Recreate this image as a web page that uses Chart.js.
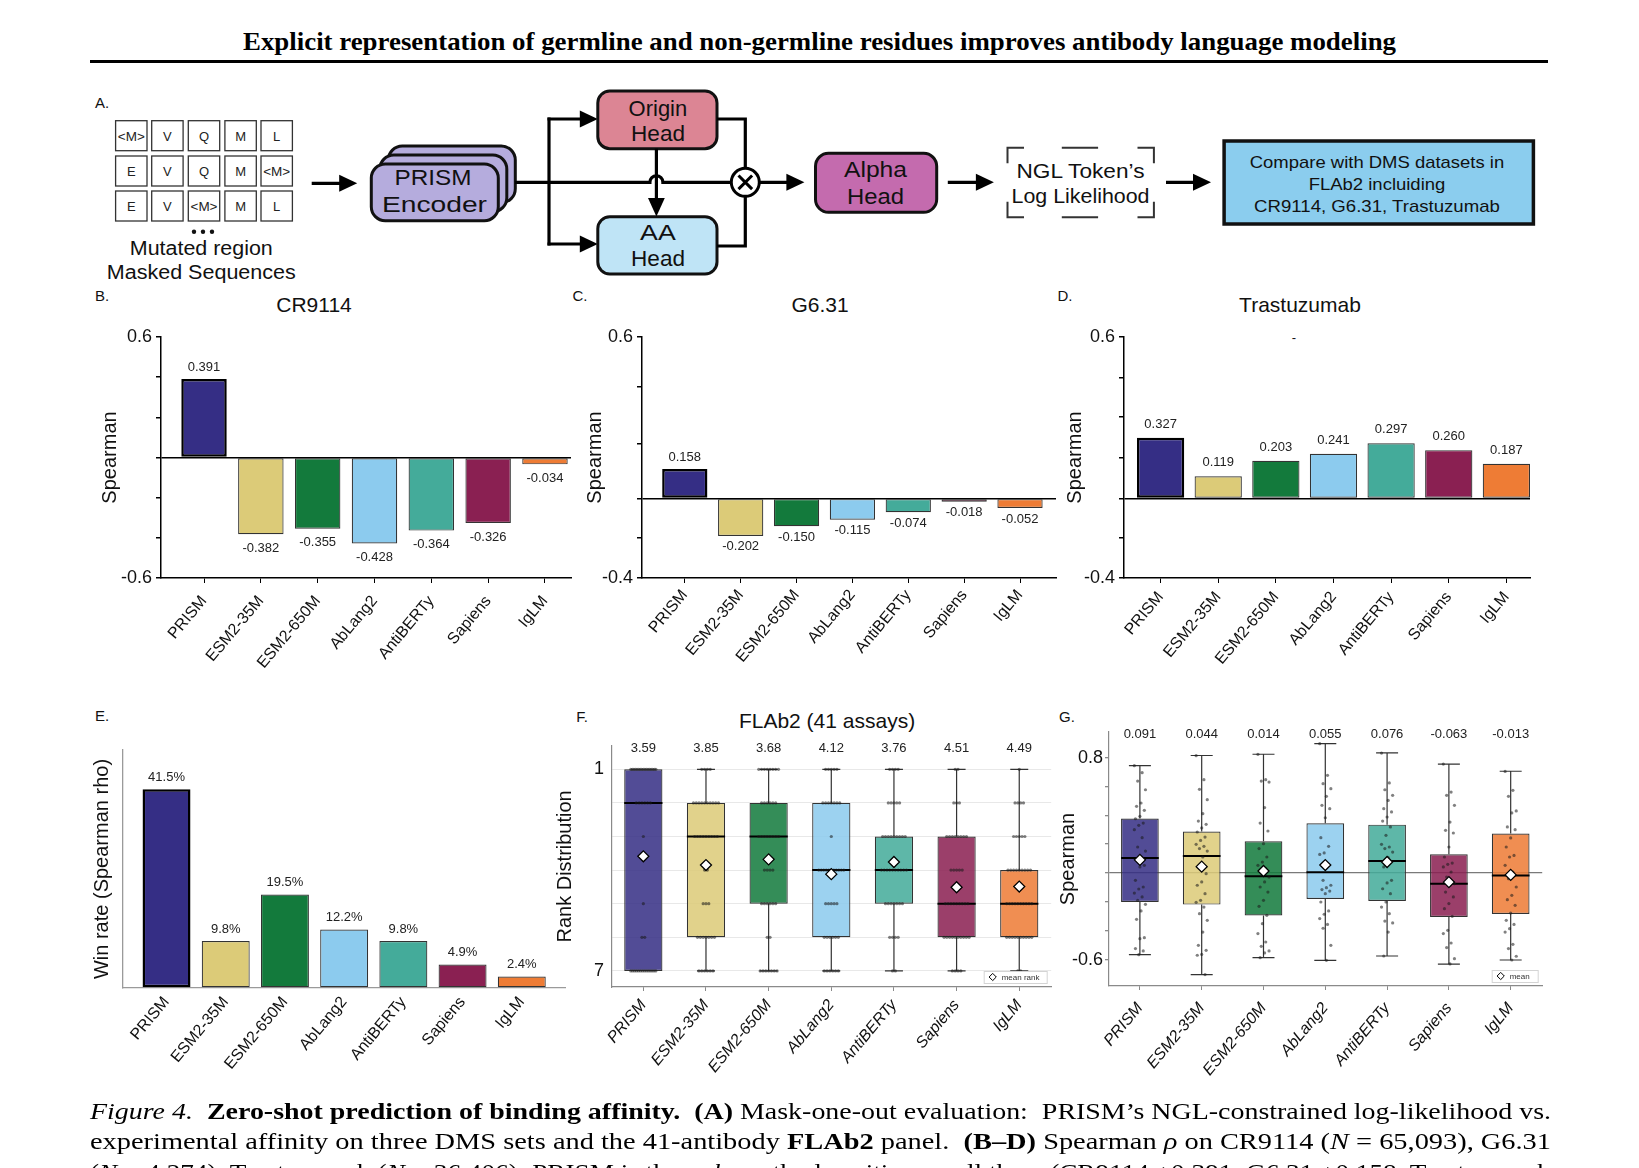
<!DOCTYPE html>
<html>
<head>
<meta charset="utf-8">
<title>Figure 4</title>
<script src="https://cdn.jsdelivr.net/npm/chart.js@4.4.1/dist/chart.umd.min.js"></script>
<style>
html,body{margin:0;padding:0;background:#fff;}
body{width:1639px;height:1168px;position:relative;overflow:hidden;font-family:"Liberation Sans",Arial,Helvetica,sans-serif;color:#111;}
canvas{position:absolute;display:block;}
.c{position:absolute;transform:translate(-50%,-50%);white-space:nowrap;line-height:1;}
.plab{font-size:15px;}
.ptitle{font-size:21px;}
.serifline{position:absolute;white-space:nowrap;font-family:"Liberation Serif","Times New Roman",serif;transform-origin:0 0;line-height:30px;color:#000;}
#rule{position:absolute;left:90px;top:60px;width:1458px;height:3px;background:#000;}
</style>
</head>
<body>
<div id="title" class="serifline" style="font-size:25px;font-weight:bold;top:27px;left:243px;">Explicit representation of germline and non-germline residues improves antibody language modeling</div>
<div id="rule"></div>
<div id="diagram"></div>

<div class="c plab" style="left:102px;top:102px">A.</div>
<div class="c plab" style="left:102px;top:295px">B.</div>
<div class="c plab" style="left:580px;top:295px">C.</div>
<div class="c plab" style="left:1065px;top:295px">D.</div>
<div class="c plab" style="left:102px;top:715px">E.</div>
<div class="c plab" style="left:582px;top:716px">F.</div>
<div class="c plab" style="left:1067px;top:716px">G.</div>

<div class="c ptitle" style="left:314px;top:304px">CR9114</div>
<div class="c ptitle" style="left:820px;top:304px">G6.31</div>
<div class="c ptitle" style="left:1300px;top:304px">Trastuzumab</div>
<div class="c" style="left:1294px;top:337px;font-size:13px">-</div>
<div class="c ptitle" style="left:827px;top:720px">FLAb2 (41 assays)</div>

<canvas id="cB"></canvas>
<canvas id="cC"></canvas>
<canvas id="cD"></canvas>
<canvas id="cE"></canvas>
<canvas id="cF"></canvas>
<canvas id="cG"></canvas>

<div class="serifline cap" style="font-size:24px;top:1096px;left:90px"><i>Figure 4.</i>&nbsp; <b>Zero-shot prediction of binding affinity.</b>&nbsp; <b>(A)</b> Mask-one-out evaluation:&nbsp; PRISM’s NGL-constrained log-likelihood vs.</div>
<div class="serifline cap" style="font-size:24px;top:1126px;left:90px">experimental affinity on three DMS sets and the 41-antibody <b>FLAb2</b> panel.&nbsp; <b>(B–D)</b> Spearman <i>ρ</i> on CR9114 (<i>N</i> = 65,093), G6.31</div>
<div class="serifline cap" style="font-size:24px;top:1157px;left:90px">(<i>N</i> = 4,274), Trastuzumab (<i>N</i> = 36,406); PRISM is the <i>only</i> method positive on all three (CR9114 +0.391, G6.31 +0.158, Trastuzumab</div>

<script>
// ---------------- data ----------------
const models = ['PRISM','ESM2-35M','ESM2-650M','AbLang2','AntiBERTy','Sapiens','IgLM'];

const cr9114Spearman = [0.391,-0.382,-0.355,-0.428,-0.364,-0.326,-0.034];
const g631Spearman = [0.158,-0.202,-0.150,-0.115,-0.074,-0.018,-0.052];
const trastuzumabSpearman = [0.327,0.119,0.203,0.241,0.297,0.260,0.187];
const winRatePct = [41.5,9.8,19.5,12.2,9.8,4.9,2.4];

// axis ticks as printed
const yTicksB = [-0.6,-0.4,-0.2,0,0.2,0.4,0.6];
const yTickLabelsB = ['-0.6','','','','','','0.6'];
const yTicksC = [-0.429,-0.213,0,0.297,0.603,0.870];
const yTickLabelsC = ['-0.4','','','','','0.6'];
const yTicksD = [-0.429,-0.213,0,0.219,0.438,0.649,0.870];
const yTickLabelsD = ['-0.4','','','','','','0.6'];
const yTicksF = [1,2,3,4,5,6,7];
const yTickLabelsF = ['1','','','','','','7'];
const yTicksG = [-0.6,-0.4,-0.2,0,0.2,0.4,0.6,0.8];
const yTickLabelsG = ['-0.6','','','','','','','0.8'];

// F: rank distribution over 41 assays
const rankMean = [3.59,3.85,3.68,4.12,3.76,4.51,4.49];
const rankQ1 = [1,2,2,2,3,3,4];
const rankMedian = [2,3,3,4,4,5,5];
const rankQ3 = [7,6,5,6,5,6,6];
const rankLow = [1,1,1,1,1,1,1];
const rankHigh = [7,7,7,7,7,7,7];
// number of assays at rank 1..7
const rankCountPRISM = [17,6,1,0,1,2,14];
const rankCountESM35 = [4,10,9,2,3,7,6];
const rankCountESM650 = [8,6,8,4,6,2,7];
const rankCountAbLang2 = [5,7,1,11,5,6,6];
const rankCountAntiBERTy = [4,5,9,10,7,4,2];
const rankCountSapiens = [2,3,8,5,9,10,4];
const rankCountIgLM = [1,4,5,9,10,10,2];

// G: per-assay Spearman
const spMean = [0.091,0.044,0.014,0.055,0.076,-0.063,-0.013];
const spQ1 = [-0.201,-0.219,-0.295,-0.180,-0.194,-0.305,-0.284];
const spMedian = [0.104,0.118,-0.023,0.005,0.083,-0.074,-0.018];
const spQ3 = [0.377,0.287,0.220,0.344,0.335,0.130,0.273];
const spLow = [-0.566,-0.704,-0.586,-0.605,-0.575,-0.631,-0.603];
const spHigh = [0.744,0.814,0.823,0.897,0.832,0.755,0.705];
const spDotsPRISM = [0.744,0.695,0.637,0.577,0.485,0.462,0.434,0.393,0.376,0.346,0.330,0.300,0.245,0.180,0.152,0.111,0.092,0.053,0.042,-0.051,-0.097,-0.111,-0.139,-0.166,-0.189,-0.217,-0.263,-0.321,-0.448,-0.455,-0.524,-0.540,-0.566];
const spDotsESM35 = [0.813,0.647,0.580,0.508,0.411,0.360,0.337,0.312,0.284,0.249,0.226,0.199,0.185,0.169,0.152,0.111,0.042,-0.005,-0.062,-0.085,-0.143,-0.189,-0.203,-0.236,-0.282,-0.328,-0.409,-0.501,-0.536,-0.564,-0.570,-0.704];
const spDotsESM650 = [0.822,0.647,0.637,0.630,0.453,0.346,0.291,0.203,0.169,0.111,0.076,0.053,0.030,0.014,-0.028,-0.062,-0.097,-0.132,-0.189,-0.231,-0.293,-0.351,-0.420,-0.478,-0.508,-0.540,-0.554,-0.587];
const spDotsAbLang2 = [0.896,0.677,0.619,0.584,0.531,0.469,0.446,0.383,0.245,0.185,0.139,0.129,0.053,-0.051,-0.085,-0.102,-0.115,-0.125,-0.143,-0.201,-0.263,-0.286,-0.316,-0.356,-0.383,-0.501,-0.605];
const spDotsAntiBERTy = [0.831,0.624,0.577,0.538,0.503,0.446,0.423,0.388,0.360,0.319,0.261,0.199,0.180,0.169,0.145,0.106,0.042,-0.051,-0.069,-0.109,-0.143,-0.201,-0.236,-0.282,-0.333,-0.346,-0.409,-0.575];
const spDotsSapiens = [0.755,0.561,0.538,0.469,0.353,0.296,0.277,0.180,0.111,0.069,0.060,0.042,0.007,-0.028,-0.074,-0.085,-0.132,-0.166,-0.212,-0.247,-0.300,-0.397,-0.420,-0.485,-0.517,-0.594,-0.630];
const spDotsIgLM = [0.704,0.573,0.531,0.430,0.416,0.319,0.300,0.243,0.180,0.122,0.111,0.053,0.007,-0.039,-0.097,-0.155,-0.185,-0.224,-0.277,-0.328,-0.356,-0.386,-0.409,-0.494,-0.524,-0.577,-0.603];

const maskedSeqs = [['<M>','V','Q','M','L'],['E','V','Q','M','<M>'],['E','V','<M>','M','L']];

// ---------------- styles ----------------
const barColors = ['#352e85','#dccb78','#137a3c','#8ccbee','#44ab9a','#8a2052','#ee7c35'];
const boxColors = ['rgba(53,46,133,0.86)','rgba(220,203,120,0.86)','rgba(19,122,60,0.86)','rgba(140,203,238,0.86)','rgba(68,171,154,0.86)','rgba(138,32,82,0.86)','rgba(238,124,53,0.86)'];
const FONT = '"Liberation Sans", Arial, Helvetica, sans-serif';

// ---------------- diagram (panel A) ----------------
(function buildDiagram(){
  const s = [];
  const colX = [115.6,151.7,188.3,224.9,261.0], rowY = [120.7,156.0,191.0];
  const esc = t => t.replace(/</g,'&lt;').replace(/>/g,'&gt;');
  maskedSeqs.forEach((row,r)=>row.forEach((t,c)=>{
    s.push(`<rect x="${colX[c]}" y="${rowY[r]}" width="31.4" height="30" fill="#fff" stroke="#333" stroke-width="1.3"/>`);
    s.push(`<text x="${colX[c]+15.7}" y="${rowY[r]+15.5}" font-size="13" text-anchor="middle" dominant-baseline="central" fill="#222"${t.length>1?' textLength="27" lengthAdjust="spacingAndGlyphs"':''}>${esc(t)}</text>`);
  }));
  const txt = (x,y,t,size,len) => `<text x="${x}" y="${y}" font-size="${size}" text-anchor="middle" dominant-baseline="central" fill="#111" textLength="${len}" lengthAdjust="spacingAndGlyphs">${t}</text>`;
  const harrow = (x1,x2,y) => `<line x1="${x1}" y1="${y}" x2="${x2-12}" y2="${y}" stroke="#000" stroke-width="3.2"/><polygon points="${x2-18},${y-8.5} ${x2},${y} ${x2-18},${y+8.5}" fill="#000"/>`;
  [194,203,212].forEach(x=>s.push(`<circle cx="${x}" cy="231.7" r="2.2" fill="#111"/>`));
  s.push(txt(201.3,248.3,'Mutated region',20,143));
  s.push(txt(201.3,272.3,'Masked Sequences',20,189));
  s.push(harrow(311.7,357.2,183.3));
  [[388.3,146],[379.8,155],[371.3,164]].forEach(([x,y])=>s.push(`<rect x="${x}" y="${y}" width="127" height="56.7" rx="14" fill="#b5acdd" stroke="#111" stroke-width="3"/>`));
  s.push(txt(433,177,'PRISM',22,77));
  s.push(txt(434.5,204,'Encoder',22,105));
  s.push(`<path d="M515,182.3 H649.9 A6.5,6.5 0 0 1 662.9,182.3 H731.3" fill="none" stroke="#000" stroke-width="3.2"/>`);
  s.push(`<line x1="549" y1="117.5" x2="549" y2="245.5" stroke="#000" stroke-width="3.2"/>`);
  s.push(harrow(547.5,597.8,119));
  s.push(harrow(547.5,597.8,244));
  s.push(`<rect x="597.8" y="91" width="119.2" height="57.7" rx="12" fill="#dc8594" stroke="#111" stroke-width="3"/>`);
  s.push(txt(657.9,108.3,'Origin',22,58.6));
  s.push(txt(658,133.3,'Head',22,54));
  s.push(`<rect x="597.8" y="216.7" width="119.2" height="57.3" rx="12" fill="#bfe4f6" stroke="#111" stroke-width="3"/>`);
  s.push(txt(657.9,232.3,'AA',22,35.6));
  s.push(txt(658,258.3,'Head',22,54));
  s.push(`<line x1="656.4" y1="148.7" x2="656.4" y2="203" stroke="#000" stroke-width="3.2"/><polygon points="648,198 656.4,216.5 664.8,198" fill="#000"/>`);
  s.push(`<path d="M717,119 H745.3 V168.3" fill="none" stroke="#000" stroke-width="3.2"/>`);
  s.push(`<path d="M717,246 H745.3 V196.3" fill="none" stroke="#000" stroke-width="3.2"/>`);
  s.push(`<circle cx="745.3" cy="182.3" r="14" fill="#fff" stroke="#000" stroke-width="3"/>`);
  s.push(`<path d="M738.5,175.5 L752.1,189.1 M752.1,175.5 L738.5,189.1" stroke="#000" stroke-width="3"/>`);
  s.push(harrow(759.3,804.4,182.3));
  s.push(`<rect x="815.5" y="153.3" width="121.2" height="59" rx="13" fill="#c46bae" stroke="#111" stroke-width="3"/>`);
  s.push(txt(875.5,169.5,'Alpha',22,63));
  s.push(txt(875.5,196.7,'Head',22,57));
  s.push(harrow(947.8,993.9,182.3));
  s.push(`<path d="M1007.5,163.3 V147.7 H1024 M1137.5,147.7 H1153.9 V163.3 M1007.5,201.7 V217.3 H1024 M1137.5,217.3 H1153.9 V201.7 M1061.8,147.7 H1098.1 M1061.8,217.3 H1098.1" fill="none" stroke="#333" stroke-width="2"/>`);
  s.push(txt(1080.5,170.7,'NGL Token’s',21,128));
  s.push(txt(1080.5,195,'Log Likelihood',21,138));
  s.push(harrow(1166,1211,182.3));
  s.push(`<rect x="1224.1" y="141" width="309.3" height="83" fill="#8bcdee" stroke="#111" stroke-width="3.5"/>`);
  s.push(txt(1377,162.7,'Compare with DMS datasets in',17,254.5));
  s.push(txt(1377,184,'FLAb2 incluiding',17,136.7));
  s.push(txt(1377,206,'CR9114, G6.31, Trastuzumab',17,245.8));
  document.getElementById('diagram').innerHTML =
    `<svg style="position:absolute;left:0;top:0" width="1639" height="300" viewBox="0 0 1639 300" font-family='"Liberation Sans", Arial, sans-serif'>${s.join('')}</svg>`;
})();

// ---------------- helpers ----------------
Chart.defaults.font.family = FONT;
Chart.defaults.color = '#111';

function setupCanvas(id, area, m) {
  const cv = document.getElementById(id);
  const w = area.r - area.l + m.l + m.r, h = area.b - area.t + m.t + m.b;
  cv.width = w; cv.height = h;
  cv.style.left = (area.l - m.l) + 'px'; cv.style.top = (area.t - m.t) + 'px';
  cv.style.width = w + 'px'; cv.style.height = h + 'px';
  return cv;
}
function baseOptions(m) {
  return { responsive:false, maintainAspectRatio:false, animation:false, events:[], devicePixelRatio:1,
    layout:{padding:{top:m.t, right:m.r, bottom:0, left:0}},
    plugins:{legend:{display:false}, tooltip:{enabled:false}} };
}
function catAxis(min, max, m, o) {
  return { type:'linear', position:'bottom', min, max, offset:false,
    afterBuildTicks: s => { s.ticks = models.map((_, i) => ({value:i})); },
    afterFit: s => { s.height = m.b; },
    ticks: { autoSkip:false, minRotation:o.rot, maxRotation:o.rot, padding:o.pad, color:'#111',
      font:{size:16, style:o.italic ? 'italic' : 'normal'}, callback: v => models[v] },
    grid: { offset:false, drawOnChartArea:false, drawTicks:o.tick > 0, tickLength:o.tick, color:o.axisColor, lineWidth:1 },
    border: { display:true, color:o.axisColor, width:o.axisWidth } };
}
function valAxis(min, max, m, vals, labels, o) {
  return { type:'linear', position:'left', min, max, reverse:!!o.reverse,
    afterBuildTicks: s => { s.ticks = vals.map(v => ({value:v})); },
    afterFit: s => { s.width = m.l; },
    ticks: { display:!!labels, padding:o.pad, color:'#111', font:{size:18}, callback: (v, i) => labels ? labels[i] : '' },
    grid: { drawOnChartArea:!!o.gridColor, drawTicks:o.tick > 0, tickLength:o.tick, tickColor:o.axisColor,
      color:o.gridColor || 'rgba(0,0,0,0)', lineWidth:o.gridWidth || 1 },
    border: { display:true, color:o.axisColor, width:o.axisWidth },
    title: { display:true, text:o.title, font:{size:20}, color:'#111', padding:{top:o.tpad, bottom:0} } };
}
function valueLabels(values, fmt, above, below) {
  return { id:'valueLabels', afterDatasetsDraw(chart) {
    const meta = chart.getDatasetMeta(0), ctx = chart.ctx;
    ctx.save(); ctx.font = '13px ' + FONT; ctx.fillStyle = '#222'; ctx.textAlign = 'center'; ctx.textBaseline = 'middle';
    meta.data.forEach((el, i) => { const v = values[i]; ctx.fillText(fmt(v), el.x, v >= 0 ? el.y - above : el.y + below); });
    ctx.restore();
  } };
}
const zeroLine = c => (c.tick && Math.abs(c.tick.value) < 1e-9) ? '#000' : 'rgba(0,0,0,0)';

function barChart(id, area, m, values, xr, yr, yVals, yLabels, barPct, o) {
  const cv = setupCanvas(id, area, m);
  const opts = baseOptions(m);
  opts.scales = {
    x: catAxis(xr[0], xr[1], m, {rot:50, pad:o.xpad, tick:o.xtick, axisColor:o.axisColor, axisWidth:o.axisWidth}),
    y: valAxis(yr[0], yr[1], m, yVals, yLabels, {pad:4, tick:o.ytick, axisColor:o.axisColor, axisWidth:o.axisWidth,
      gridColor:o.zero ? zeroLine : null, gridWidth:1.5, title:o.title, tpad:o.tpad})
  };
  new Chart(cv, {
    type:'bar',
    data:{ datasets:[{ data: values.map((v, i) => ({x:i, y:v})), backgroundColor: barColors,
      borderColor: barColors.map((_, i) => i === 0 ? '#000' : '#333'),
      borderWidth: barColors.map((_, i) => i === 0 ? 2.5 : 1.2),
      borderSkipped:false, barPercentage:barPct, categoryPercentage:1 }] },
    options: opts,
    plugins: [valueLabels(values, o.fmt, o.above, o.below)]
  });
}

function boxExtras(st, o) {
  return { id:'boxExtras',
    afterDatasetDraw(chart, args) {
      if (args.index !== 2) return;
      const ctx = chart.ctx, y = chart.scales.y;
      ctx.save();
      args.meta.data.forEach((el, i) => {
        const cx = el.x, hw = el.width / 2;
        ctx.strokeStyle = '#333'; ctx.lineWidth = 1.2;
        [[st.q3[i], st.hi[i]], [st.q1[i], st.lo[i]]].forEach(([a, b]) => {
          const pa = y.getPixelForValue(a), pb = y.getPixelForValue(b);
          if (Math.abs(pa - pb) < 0.5) return;
          ctx.beginPath(); ctx.moveTo(cx, pa); ctx.lineTo(cx, pb);
          ctx.moveTo(cx - o.cap, pb); ctx.lineTo(cx + o.cap, pb); ctx.stroke();
        });
        const pm = y.getPixelForValue(st.med[i]);
        ctx.strokeStyle = '#000'; ctx.lineWidth = 2;
        ctx.beginPath(); ctx.moveTo(cx - hw, pm); ctx.lineTo(cx + hw, pm); ctx.stroke();
      });
      ctx.restore();
    },
    afterDraw(chart) {
      const ctx = chart.ctx, a = chart.chartArea, x = chart.scales.x;
      ctx.save();
      ctx.font = '13px ' + FONT; ctx.fillStyle = '#222'; ctx.textAlign = 'center'; ctx.textBaseline = 'middle';
      st.mean.forEach((v, i) => ctx.fillText(o.fmt(v), x.getPixelForValue(i), a.top + o.labelDy));
      const lw = o.legW, lh = 12, lx = a.right - 4.5 - lw, ly = a.bottom - 4 - lh;
      ctx.fillStyle = '#fff'; ctx.strokeStyle = '#d4d4d4'; ctx.lineWidth = 1;
      ctx.fillRect(lx, ly, lw, lh); ctx.strokeRect(lx + 0.5, ly + 0.5, lw, lh);
      const dx = lx + 9, dy = ly + lh / 2, r = 3.6;
      ctx.beginPath(); ctx.moveTo(dx, dy - r); ctx.lineTo(dx + r, dy); ctx.lineTo(dx, dy + r); ctx.lineTo(dx - r, dy); ctx.closePath();
      ctx.fillStyle = '#fff'; ctx.fill(); ctx.strokeStyle = '#000'; ctx.stroke();
      ctx.fillStyle = '#333'; ctx.font = '8px ' + FONT; ctx.textAlign = 'left'; ctx.fillText(o.legText, lx + 18, dy + 0.5);
      ctx.restore();
    } };
}

function boxChart(id, area, m, st, dots, xr, yr, yVals, yLabels, o) {
  const cv = setupCanvas(id, area, m);
  const opts = baseOptions(m);
  opts.scales = {
    x: catAxis(xr[0], xr[1], m, {rot:50, pad:o.xpad, tick:4, italic:true, axisColor:'#8a8a8a', axisWidth:1.2}),
    y: valAxis(yr[0], yr[1], m, yVals, yLabels, {pad:o.ypad, tick:o.ytick, axisColor:'#8a8a8a', axisWidth:1.2,
      reverse:o.reverse, gridColor:o.gridColor, gridWidth:o.gridWidth, title:o.title, tpad:o.tpad})
  };
  new Chart(cv, {
    type:'bar',
    data:{ datasets:[
      { type:'scatter', data: st.mean.map((v, i) => ({x:i, y:v})), pointStyle:'rectRot', pointRadius:5.5,
        backgroundColor:'#fff', borderColor:'#000', borderWidth:1.3, order:0 },
      { type:'scatter', data: dots, pointRadius:1.6, backgroundColor:'rgba(25,25,25,0.55)', borderWidth:0, order:1 },
      { type:'bar', data: st.q1.map((q, i) => ({x:i, y:[q, st.q3[i]]})), backgroundColor: boxColors,
        borderColor:'#333', borderWidth:1.2, borderSkipped:false, barPercentage:0.61, categoryPercentage:1, order:2 }
    ] },
    options: opts,
    plugins: [boxExtras(st, o)]
  });
}

// ---------------- panels B-D ----------------
const mBD = {l:71, t:40, r:8, b:120};
barChart('cB', {l:161, t:337, r:571, b:578}, mBD, cr9114Spearman, [-0.757, 6.458], [-0.6, 0.6], yTicksB, yTickLabelsB, 0.80,
  {xpad:9, xtick:5, ytick:5, axisColor:'#000', axisWidth:1.5, zero:true, title:'Spearman', tpad:8, fmt:v => v.toFixed(3), above:12, below:14});
barChart('cC', {l:642, t:337, r:1056, b:578}, mBD, g631Spearman, [-0.766, 6.644], [-0.429, 0.870], yTicksC, yTickLabelsC, 0.81,
  {xpad:3, xtick:5, ytick:5, axisColor:'#000', axisWidth:1.5, zero:true, title:'Spearman', tpad:12, fmt:v => v.toFixed(3), above:12, below:11});
barChart('cD', {l:1124, t:337, r:1530, b:578}, mBD, trastuzumabSpearman, [-0.635, 6.41], [-0.429, 0.870], yTicksD, yTickLabelsD, 0.82,
  {xpad:5, xtick:5, ytick:5, axisColor:'#000', axisWidth:1.5, zero:true, title:'Spearman', tpad:10, fmt:v => v.toFixed(3), above:13.5, below:12});

// ---------------- panel E ----------------
barChart('cE', {l:123, t:750, r:565, b:988}, {l:40, t:40, r:8, b:110}, winRatePct, [-0.735, 6.73], [0, 49.7], [0], null, 0.81,
  {xpad:5, xtick:0, ytick:0, axisColor:'#9a9a9a', axisWidth:1.3, zero:false, title:'Win rate (Spearman rho)', tpad:7, fmt:v => v.toFixed(1) + '%', above:12, below:12});

// ---------------- panel F ----------------
const rankCounts = [rankCountPRISM, rankCountESM35, rankCountESM650, rankCountAbLang2, rankCountAntiBERTy, rankCountSapiens, rankCountIgLM];
const fDots = [];
rankCounts.forEach((counts, i) => counts.forEach((c, r) => {
  const step = c > 1 ? Math.min(0.045, 0.4 / (c - 1)) : 0;
  for (let k = 0; k < c; k++) fDots.push({x: i + (k - (c - 1) / 2) * step, y: r + 1});
}));
boxChart('cF', {l:612, t:742, r:1052, b:987}, {l:60, t:15, r:6, b:110},
  {mean:rankMean, q1:rankQ1, med:rankMedian, q3:rankQ3, lo:rankLow, hi:rankHigh}, fDots,
  [-0.5, 6.51], [0.3, 7.48], yTicksF, yTickLabelsF,
  {xpad:5, ypad:8, ytick:0, reverse:true, gridColor:'#e8e8e8', gridWidth:1, title:'Rank Distribution', tpad:1,
   cap:9, fmt:v => v.toFixed(2), labelDy:3, legW:63, legText:'mean rank'});

// ---------------- panel G ----------------
const spDots = [spDotsPRISM, spDotsESM35, spDotsESM650, spDotsAbLang2, spDotsAntiBERTy, spDotsSapiens, spDotsIgLM];
const gDots = [];
spDots.forEach((arr, i) => arr.forEach((v, k) => gDots.push({x: i + (((k * 7) % 11) - 5) / 5 * 0.09, y: v})));
boxChart('cG', {l:1109, t:732, r:1543, b:986}, {l:55, t:15, r:6, b:110},
  {mean:spMean, q1:spQ1, med:spMedian, q3:spQ3, lo:spLow, hi:spHigh}, gDots,
  [-0.5, 6.51], [-0.783, 0.977], yTicksG, yTickLabelsG,
  {xpad:9, ypad:2, ytick:4, reverse:false, gridColor: c => (c.tick && Math.abs(c.tick.value) < 1e-9) ? '#7a7a7a' : 'rgba(0,0,0,0)', gridWidth:1.3,
   title:'Spearman', tpad:2, cap:11, fmt:v => v.toFixed(3), labelDy:2, legW:46, legText:'mean'});

// ---------------- title & caption fitting ----------------
function fitWidth(el, width) {
  const w = el.getBoundingClientRect().width;
  el.style.transform = 'scaleX(' + (width / w) + ')';
}
fitWidth(document.getElementById('title'), 1153);
document.querySelectorAll('.cap').forEach(el => fitWidth(el, 1461));
</script>
</body>
</html>
